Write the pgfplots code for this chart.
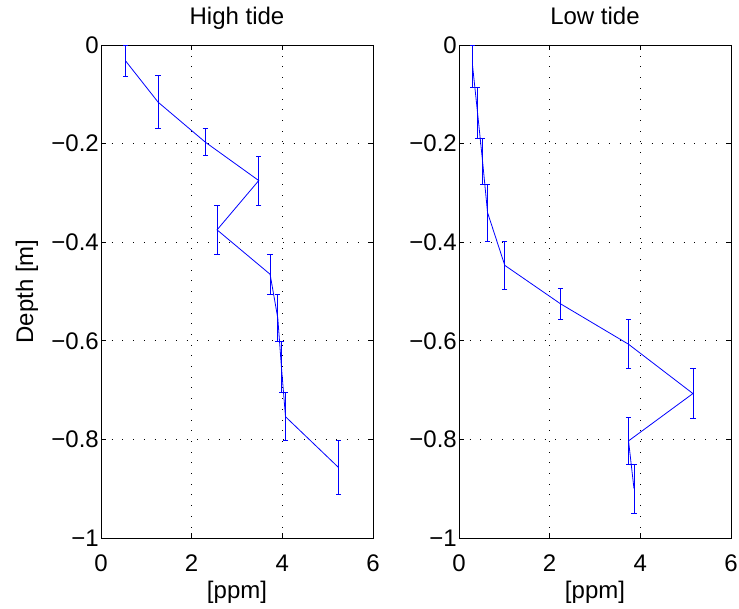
\documentclass[border=0pt]{standalone}
\usepackage{fontspec}
\setmainfont{Liberation Sans}
\usepackage{pgfplots}
\pgfplotsset{compat=1.18}

\pgfplotstableread{
x y e
0.54 -0.032 0.032
1.26 -0.116 0.054
2.30 -0.197 0.027
3.48 -0.275 0.050
2.56 -0.375 0.050
3.73 -0.465 0.041
3.90 -0.554 0.048
3.98 -0.653 0.051
4.07 -0.754 0.049
5.24 -0.857 0.054
}\hightide

\pgfplotstableread{
x y e
0.30 -0.043 0.043
0.41 -0.138 0.052
0.52 -0.236 0.047
0.63 -0.340 0.058
1.01 -0.447 0.049
2.24 -0.525 0.031
3.74 -0.607 0.050
5.16 -0.707 0.050
3.74 -0.803 0.047
3.86 -0.900 0.050
}\lowtide

\pgfplotsset{
  myax/.style={
    scale only axis, width=272pt, height=493pt,
    anchor=south west,
    xmin=0, xmax=6, ymin=-1, ymax=0,
    xtick={0,2,4,6}, xticklabels={0,2,4,6},
    ytick={-1,-0.8,-0.6,-0.4,-0.2,0},
    yticklabels={−1,−0.8,−0.6,−0.4,−0.2,0},
    grid=major,
    major grid style={black, line width=0.7pt, dash pattern=on 0.7pt off 10pt},
    tick align=inside, major tick length=5pt,
    tick style={black, line width=0.7pt},
    axis line style={black, line width=0.8pt},
    xticklabel style={anchor=base, yshift=-33pt, inner sep=0pt},
    yticklabel style={anchor=east, xshift=-2pt, inner sep=0pt},
    title style={at={(axis description cs:0.5,1)}, anchor=base, yshift=14pt, inner sep=0pt},
    xlabel style={at={(axis description cs:0.5,0)}, anchor=base, yshift=-60pt, inner sep=0pt},
    xlabel={[ppm]},
  },
  eb/.style={blue, line width=0.8pt, mark=none,
    error bars/.cd, y dir=both, y explicit,
    error bar style={line width=0.8pt, draw=blue},
    error mark options={rotate=90, mark size=2.7pt, draw=blue, color=blue, line width=0.8pt}},
}

\begin{document}
\fontsize{24}{28}\selectfont
\begin{tikzpicture}
\useasboundingbox (0pt,0pt) rectangle (739pt,608pt);
\begin{axis}[myax, at={(101pt,70pt)}, title={High tide},
  ylabel={Depth [m]},
  ylabel style={at={(axis description cs:-0.272,0.5)}, anchor=center, inner sep=0pt}]
\addplot[eb] table[x=x, y=y, y error=e] {\hightide};
\end{axis}
\begin{axis}[myax, at={(459pt,70pt)}, title={Low tide}]
\addplot[eb] table[x=x, y=y, y error=e] {\lowtide};
\end{axis}
\end{tikzpicture}
\end{document}
